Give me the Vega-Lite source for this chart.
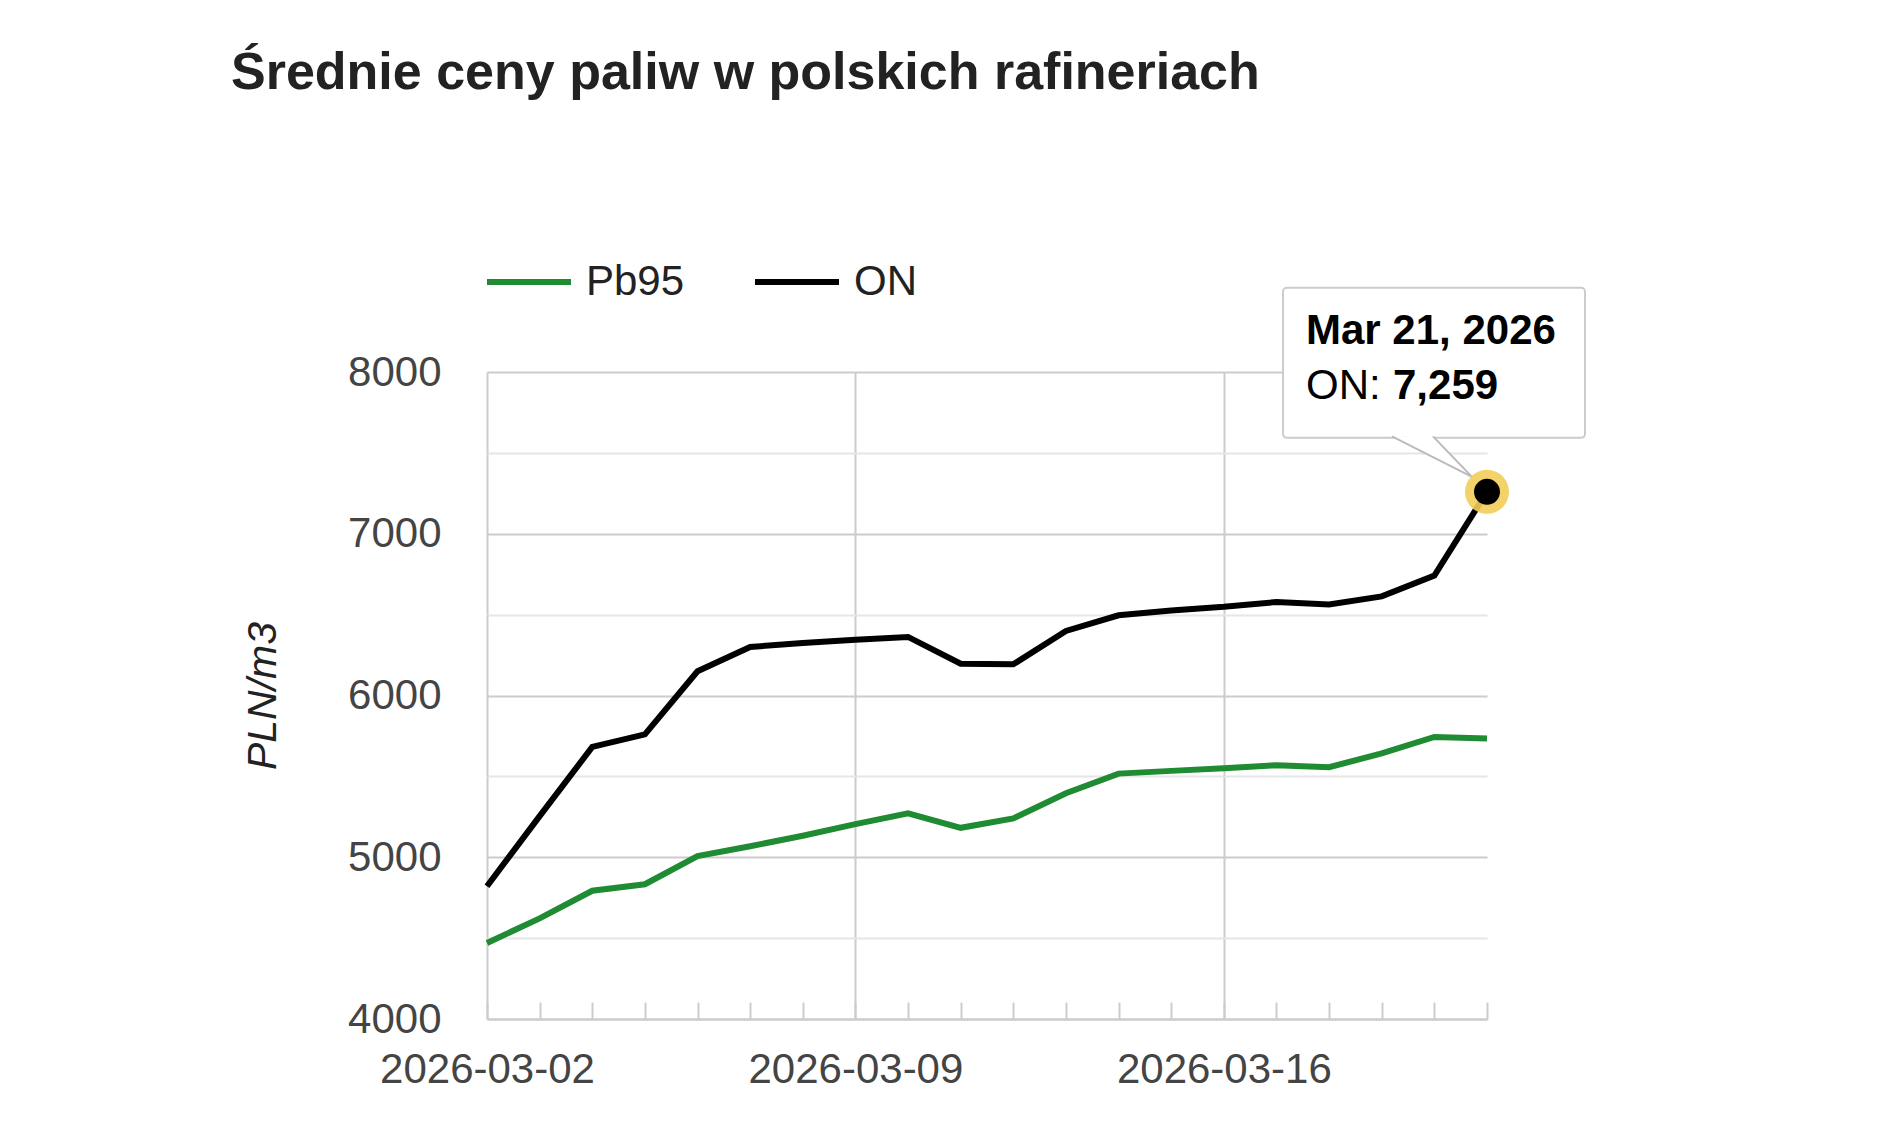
{
  "$schema": "https://vega.github.io/schema/vega-lite/v6.json",
  "autosize": "none",
  "width": 1000,
  "height": 647,
  "padding": {"left": 487, "top": 372, "right": 393, "bottom": 125},
  "background": "white",
  "title": {
    "text": "Średnie ceny paliw w polskich rafineriach",
    "anchor": "start",
    "frame": "group",
    "dx": -256,
    "baseline": "alphabetic",
    "offset": 96,
    "fontSize": 52,
    "fontWeight": "bold",
    "color": "#222222",
    "font": "Liberation Sans"
  },
  "config": {
    "font": "Liberation Sans",
    "view": {"stroke": null}
  },
  "datasets": {
    "prices": [
      {"date": "2026-03-02", "series": "Pb95", "value": 4470},
      {"date": "2026-03-03", "series": "Pb95", "value": 4622},
      {"date": "2026-03-04", "series": "Pb95", "value": 4793},
      {"date": "2026-03-05", "series": "Pb95", "value": 4833},
      {"date": "2026-03-06", "series": "Pb95", "value": 5007},
      {"date": "2026-03-07", "series": "Pb95", "value": 5068},
      {"date": "2026-03-08", "series": "Pb95", "value": 5133},
      {"date": "2026-03-09", "series": "Pb95", "value": 5205},
      {"date": "2026-03-10", "series": "Pb95", "value": 5272},
      {"date": "2026-03-11", "series": "Pb95", "value": 5182},
      {"date": "2026-03-12", "series": "Pb95", "value": 5240},
      {"date": "2026-03-13", "series": "Pb95", "value": 5396},
      {"date": "2026-03-14", "series": "Pb95", "value": 5517},
      {"date": "2026-03-15", "series": "Pb95", "value": 5534},
      {"date": "2026-03-16", "series": "Pb95", "value": 5550},
      {"date": "2026-03-17", "series": "Pb95", "value": 5569},
      {"date": "2026-03-18", "series": "Pb95", "value": 5557},
      {"date": "2026-03-19", "series": "Pb95", "value": 5642},
      {"date": "2026-03-20", "series": "Pb95", "value": 5744},
      {"date": "2026-03-21", "series": "Pb95", "value": 5734},
      {"date": "2026-03-02", "series": "ON", "value": 4821},
      {"date": "2026-03-03", "series": "ON", "value": 5254},
      {"date": "2026-03-04", "series": "ON", "value": 5682},
      {"date": "2026-03-05", "series": "ON", "value": 5760},
      {"date": "2026-03-06", "series": "ON", "value": 6150},
      {"date": "2026-03-07", "series": "ON", "value": 6300},
      {"date": "2026-03-08", "series": "ON", "value": 6325},
      {"date": "2026-03-09", "series": "ON", "value": 6345},
      {"date": "2026-03-10", "series": "ON", "value": 6362},
      {"date": "2026-03-11", "series": "ON", "value": 6197},
      {"date": "2026-03-12", "series": "ON", "value": 6193},
      {"date": "2026-03-13", "series": "ON", "value": 6399},
      {"date": "2026-03-14", "series": "ON", "value": 6496},
      {"date": "2026-03-15", "series": "ON", "value": 6526},
      {"date": "2026-03-16", "series": "ON", "value": 6548},
      {"date": "2026-03-17", "series": "ON", "value": 6578},
      {"date": "2026-03-18", "series": "ON", "value": 6563},
      {"date": "2026-03-19", "series": "ON", "value": 6613},
      {"date": "2026-03-20", "series": "ON", "value": 6742},
      {"date": "2026-03-21", "series": "ON", "value": 7259}
    ],
    "hover": [
      {"date": "2026-03-21", "series": "ON", "value": 7259}
    ]
  },
  "encoding": {
    "x": {
      "field": "date",
      "type": "temporal",
      "scale": {"type": "utc"},
      "title": null,
      "axis": {
        "tickCount": {"interval": "day", "step": 1},
        "labelExpr": "utcday(datum.value) == 1 ? utcFormat(datum.value, '%Y-%m-%d') : ''",
        "labelFlush": false,
        "labelOverlap": false,
        "labelBound": false,
        "labelLimit": 0,
        "labelFontSize": 42,
        "labelColor": "#444444",
        "labelPadding": 47,
        "tickSize": -17,
        "tickWidth": 2,
        "tickColor": "#cccccc",
        "domainColor": "#cccccc",
        "domainWidth": 2,
        "gridWidth": 2,
        "gridColor": {"condition": {"test": "utcday(datum.value) == 1", "value": "#cccccc"}, "value": "transparent"}
      }
    },
    "y": {
      "field": "value",
      "type": "quantitative",
      "scale": {"domain": [4000, 8000], "nice": false, "zero": false},
      "title": "PLN/m3",
      "axis": {
        "values": [4000, 4500, 5000, 5500, 6000, 6500, 7000, 7500, 8000],
        "labelExpr": "datum.value % 1000 == 0 ? format(datum.value, 'd') : ''",
        "labelFontSize": 42,
        "labelColor": "#444444",
        "labelPadding": 46,
        "ticks": false,
        "tickSize": 0,
        "domain": false,
        "gridWidth": 2,
        "gridColor": {"condition": {"test": "datum.value % 1000 == 0", "value": "#cccccc"}, "value": "#e6e6e6"},
        "titleFontSize": 41,
        "titleFontStyle": "italic",
        "titleFontWeight": "normal",
        "titleColor": "#222222",
        "titlePadding": 63
      }
    }
  },
  "layer": [
    {
      "data": {"name": "prices"},
      "mark": {"type": "line", "strokeWidth": 6},
      "encoding": {
        "color": {
          "field": "series",
          "type": "nominal",
          "scale": {"domain": ["Pb95", "ON"], "range": ["#1f8b32", "#000000"]},
          "legend": {
            "orient": "none",
            "legendX": -3,
            "legendY": -135,
            "direction": "horizontal",
            "title": null,
            "symbolType": "stroke",
            "symbolSize": 7056,
            "symbolStrokeWidth": 6,
            "labelFontSize": 42,
            "labelColor": "#222222",
            "labelOffset": 12,
            "columnPadding": 58
          }
        }
      }
    },
    {
      "data": {"name": "hover"},
      "mark": {
        "type": "rect",
        "fill": "white",
        "stroke": "#cccccc",
        "strokeWidth": 2,
        "cornerRadius": 4,
        "xOffset": -204,
        "x2Offset": 98,
        "yOffset": -204,
        "y2Offset": -54
      },
      "encoding": {
        "x2": {"field": "date"},
        "y2": {"field": "value"}
      }
    },
    {
      "data": {"name": "hover"},
      "mark": {
        "type": "point",
        "shape": "M -0.95 -0.555 L -0.15 -0.15 L -0.54 -0.555",
        "size": 40000,
        "filled": true,
        "fill": "white",
        "stroke": "#bbbbbb",
        "strokeWidth": 2,
        "opacity": 1
      }
    },
    {
      "data": {"name": "hover"},
      "mark": {"type": "point", "filled": true, "size": 1936, "color": "#f3cd5a", "opacity": 0.9}
    },
    {
      "data": {"name": "hover"},
      "mark": {"type": "point", "filled": true, "size": 676, "color": "#000000", "opacity": 1}
    },
    {
      "data": {"name": "hover"},
      "mark": {"type": "text", "align": "left", "baseline": "alphabetic", "dx": -181, "dy": -148, "fontSize": 42, "fontWeight": "bold", "color": "#000000"},
      "encoding": {
        "text": {"field": "date", "timeUnit": "utcyearmonthdate", "type": "temporal", "format": "%b %d, %Y"}
      }
    },
    {
      "data": {"name": "hover"},
      "mark": {"type": "text", "align": "left", "baseline": "alphabetic", "dx": -181, "dy": -93, "fontSize": 42, "color": "#000000"},
      "encoding": {
        "text": {"value": "ON:"}
      }
    },
    {
      "data": {"name": "hover"},
      "mark": {"type": "text", "align": "left", "baseline": "alphabetic", "dx": -94, "dy": -93, "fontSize": 42, "fontWeight": "bold", "color": "#000000"},
      "encoding": {
        "text": {"field": "value", "type": "quantitative", "format": ","}
      }
    }
  ]
}
